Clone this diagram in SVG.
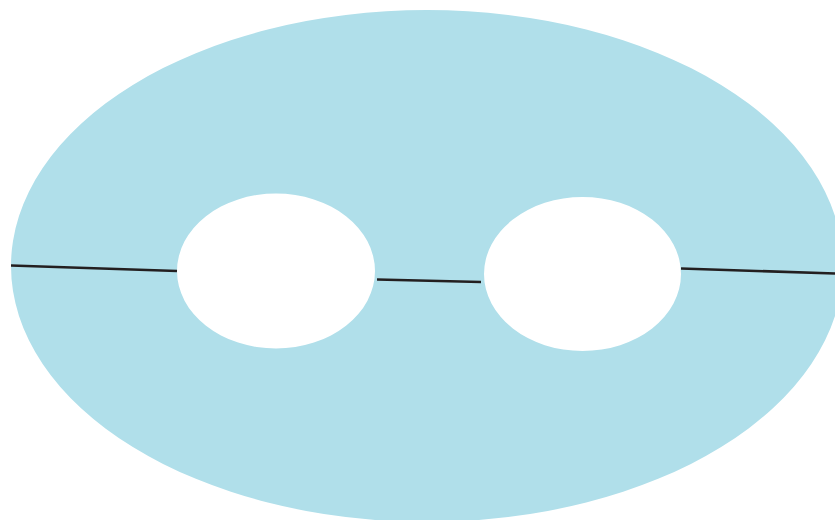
<svg xmlns="http://www.w3.org/2000/svg" width="835" height="520" viewBox="0 0 835 520">
<style>
.body{fill:#b0dfea;fill-rule:evenodd;stroke:none}
.cut{stroke:#231f20;stroke-width:2.6;fill:none}
</style>
<rect width="835" height="520" fill="#ffffff"/>
<g id="surface">
<path class="body" d="M11,266 A416,256 0 1,0 843,266 A416,256 0 1,0 11,266 Z M177,271 A99,77.5 0 1,0 375,271 A99,77.5 0 1,0 177,271 Z M484,274 A98.5,77 0 1,0 681,274 A98.5,77 0 1,0 484,274 Z"/>
</g>
<g id="cuts">
<line class="cut" x1="11" y1="265.5" x2="177" y2="271"/>
<line class="cut" x1="377" y1="279.5" x2="481" y2="282"/>
<line class="cut" x1="681" y1="268.5" x2="835" y2="273.5"/>
</g>
</svg>
